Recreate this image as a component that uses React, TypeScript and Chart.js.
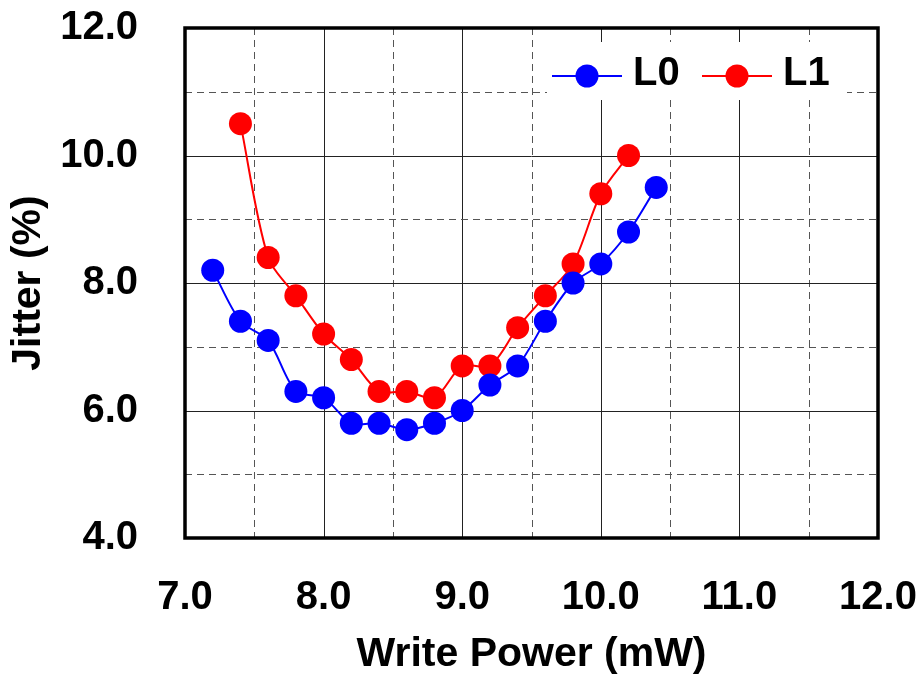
import React, { useEffect, useRef } from "react";
import { Chart, registerables } from "chart.js";

Chart.register(...registerables);

const xL0 = [7.2, 7.4, 7.6, 7.8, 8.0, 8.2, 8.4, 8.6, 8.8, 9.0, 9.2, 9.4, 9.6, 9.8, 10.0, 10.2, 10.4];
const yL0 = [8.2, 7.4, 7.1, 6.3, 6.2, 5.8, 5.8, 5.7, 5.8, 6.0, 6.4, 6.7, 7.4, 8.0, 8.3, 8.8, 9.5];
const xL1 = [7.4, 7.6, 7.8, 8.0, 8.2, 8.4, 8.6, 8.8, 9.0, 9.2, 9.4, 9.6, 9.8, 10.0, 10.2];
const yL1 = [10.5, 8.4, 7.8, 7.2, 6.8, 6.3, 6.3, 6.2, 6.7, 6.7, 7.3, 7.8, 8.3, 9.4, 10.0];

const seriesNames = ["L0", "L1"];
const seriesColors = ["#0000ff", "#ff0000"];

const xMin = 7, xMax = 12, xStep = 1;
const yMin = 4, yMax = 12, yStep = 2;
const xGridValues = [7.5, 8, 8.5, 9, 9.5, 10, 10.5, 11, 11.5];
const yGridValues = [5, 6, 7, 8, 9, 10, 11];

const xTitle = "Write Power (mW)";
const yTitle = "Jitter (%)";

const FONT = "'Liberation Sans', Arial, sans-serif";

export default function App() {
  const ref = useRef<HTMLCanvasElement>(null);
  useEffect(() => {
    if (!ref.current) return;
    const gridPlugin = {
      id: "gridAndLegend",
      beforeDatasetsDraw(chart: any) {
        const { ctx, chartArea: a, scales } = chart;
        const xs = scales.x, ys = scales.y;
        ctx.save();
        ctx.lineWidth = 1;
        xGridValues.forEach((v) => {
          const px = Math.round(xs.getPixelForValue(v)) + 0.5;
          const solid = Number.isInteger(v);
          ctx.strokeStyle = solid ? "#222" : "#555";
          ctx.setLineDash(solid ? [] : [7, 5]);
          ctx.beginPath();
          ctx.moveTo(px, a.top);
          ctx.lineTo(px, a.bottom);
          ctx.stroke();
        });
        yGridValues.forEach((v) => {
          const py = Math.round(ys.getPixelForValue(v)) + 0.5;
          const solid = v % 2 === 0;
          ctx.strokeStyle = solid ? "#222" : "#555";
          ctx.setLineDash(solid ? [] : [7, 5]);
          ctx.beginPath();
          ctx.moveTo(a.left, py);
          ctx.lineTo(a.right, py);
          ctx.stroke();
        });
        ctx.setLineDash([]);
        // legend box
        ctx.fillStyle = "#fff";
        ctx.fillRect(a.left + 362, a.top + 14, 300, 58);
        // border
        ctx.strokeStyle = "#000";
        ctx.lineWidth = 3.5;
        ctx.strokeRect(a.left, a.top, a.right - a.left, a.bottom - a.top);
        ctx.restore();
      },
      afterDatasetsDraw(chart: any) {
        const { ctx, chartArea: a } = chart;
        ctx.save();
        const ly = a.top + 48;
        const starts = [a.left + 367, a.left + 517];
        seriesNames.forEach((name, i) => {
          const x0 = starts[i];
          ctx.strokeStyle = seriesColors[i];
          ctx.lineWidth = 2;
          ctx.beginPath();
          ctx.moveTo(x0, ly);
          ctx.lineTo(x0 + 70, ly);
          ctx.stroke();
          ctx.fillStyle = seriesColors[i];
          ctx.beginPath();
          ctx.arc(x0 + 35, ly, 11.5, 0, Math.PI * 2);
          ctx.fill();
          ctx.fillStyle = "#000";
          ctx.font = `bold 40px ${FONT}`;
          ctx.textBaseline = "middle";
          ctx.textAlign = "left";
          ctx.fillText(name, x0 + 81, ly - 2);
        });
        ctx.restore();
      },
    };

    const mk = (xs: number[], ys: number[], i: number) => ({
      label: seriesNames[i],
      data: xs.map((x, k) => ({ x, y: ys[k] })),
      borderColor: seriesColors[i],
      backgroundColor: seriesColors[i],
      pointBackgroundColor: seriesColors[i],
      pointBorderWidth: 0,
      pointRadius: 11.5,
      borderWidth: 2,
      tension: 0.3,
      showLine: true,
    });

    const tickFont = { family: FONT, weight: "bold" as const, size: 40 };
    const chart = new Chart(ref.current, {
      type: "scatter",
      data: { datasets: [mk(xL0, yL0, 0), mk(xL1, yL1, 1)] },
      options: {
        responsive: false,
        animation: false,
        devicePixelRatio: 1,
        layout: { padding: { left: 0, right: 40, top: 28, bottom: 0 } },
        plugins: { legend: { display: false }, tooltip: { enabled: false } },
        scales: {
          x: {
            type: "linear",
            min: xMin,
            max: xMax,
            ticks: {
              stepSize: xStep,
              autoSkip: false,
              maxRotation: 0,
              color: "#000",
              font: tickFont,
              padding: 36,
              callback: (v: any) => Number(v).toFixed(1),
            },
            grid: { display: false, drawTicks: false },
            border: { display: false },
            title: { display: true, text: xTitle, color: "#000", font: { family: FONT, weight: "bold", size: 41 }, padding: { top: 0, bottom: 0 } },
            afterFit: (s: any) => { s.height = 141; s.paddingRight = 0; s.paddingLeft = 0; },
          },
          y: {
            type: "linear",
            min: yMin,
            max: yMax,
            ticks: {
              stepSize: yStep,
              color: "#000",
              font: tickFont,
              padding: 47,
              callback: (v: any) => Number(v).toFixed(1),
            },
            grid: { display: false, drawTicks: false },
            border: { display: false },
            title: { display: true, text: yTitle, color: "#000", font: { family: FONT, weight: "bold", size: 41 }, padding: { top: 4, bottom: 0 } },
            afterFit: (s: any) => { s.width = 185; s.paddingTop = 0; s.paddingBottom = 0; },
          },
        },
      },
      plugins: [gridPlugin],
    } as any);
    return () => chart.destroy();
  }, []);
  return (
    <div style={{ position: "absolute", left: 0, top: 0, width: 918, height: 679, background: "#fff" }}>
      <canvas ref={ref} width={918} height={679} style={{ display: "block" }} />
    </div>
  );
}
